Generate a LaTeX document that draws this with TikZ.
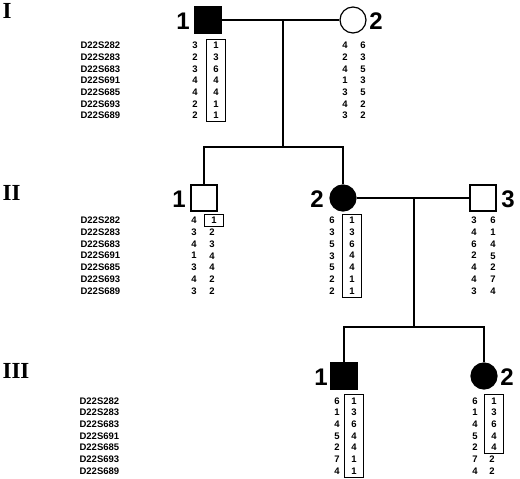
\documentclass[tikz,border=0pt]{standalone}
\usepackage{fontspec}
\setmainfont{Liberation Sans}
\newfontfamily\romfont{Liberation Serif}
\begin{document}
\begin{tikzpicture}[x=1pt, y=-1pt, line width=1.2pt,
  male/.style={draw, rectangle, minimum size=26pt, inner sep=0pt},
  female/.style={draw, circle, minimum size=26pt, inner sep=0pt},
  affected/.style={fill=black},
  idnum/.style={font=\bfseries\fontsize{24}{24}\selectfont, inner sep=0pt},
  genlab/.style={font=\romfont\bfseries\fontsize{23}{23}\selectfont, anchor=west, inner sep=0pt},
  markers/.style={font=\bfseries\fontsize{9.5}{11.7}\selectfont, align=left, anchor=west, inner sep=0pt},
  alleles/.style={font=\bfseries\fontsize{9.5}{11.7}\selectfont, align=center, inner sep=0pt},
  hapbox/.style={alleles, draw, line width=0.8pt, minimum width=19pt, inner ysep=3pt}]
  \useasboundingbox (0,0) rectangle (520,479);
  % generations
  \node[genlab] (genI) at (2,11) {I};
  \node[genlab] (genII) at (2,192.5) {II};
  \node[genlab] (genIII) at (2,370.5) {III};
  % individuals
  \node[male, affected] (I1) at (208,20) {};
  \node[female] (I2) at (353,20) {};
  \node[male] (II1) at (204,198) {};
  \node[female, affected] (II2) at (343,198) {};
  \node[male] (II3) at (483,198) {};
  \node[male, affected] (III1) at (344,376) {};
  \node[female, affected] (III2) at (484,376) {};
  \node[idnum] (nI1) at (183,21) {1};
  \node[idnum] (nI2) at (376,21) {2};
  \node[idnum] (nII1) at (179,199) {1};
  \node[idnum] (nII2) at (317,199) {2};
  \node[idnum] (nII3) at (508,199) {3};
  \node[idnum] (nIII1) at (321,377) {1};
  \node[idnum] (nIII2) at (507,377) {2};
  % lines of descent
  \coordinate (m1) at (283,20);
  \coordinate (s1) at (283,147);
  \coordinate (m2) at (414,198);
  \coordinate (s2) at (414,327);
  \draw (I1.east) -- (I2.west);
  \draw (m1) -- (s1);
  \draw (II1.north) |- (s1) -| (II2.north);
  \draw (II2.east) -- (II3.west);
  \draw (m2) -- (s2);
  \draw (III1.north) |- (s2) -| (III2.north);
  % markers
  \node[markers] (mkI) at (80,80.5) {D22S282\\D22S283\\D22S683\\D22S691\\D22S685\\D22S693\\D22S689};
  \node[markers] (mkII) at (80,255.7) {D22S282\\D22S283\\D22S683\\D22S691\\D22S685\\D22S693\\D22S689};
  \node[markers] (mkIII) at (79,435.9) {D22S282\\D22S283\\D22S683\\D22S691\\D22S685\\D22S693\\D22S689};
  % haplotypes, generation I
  \node[alleles] (hI1a) at (195,80.5) {3\\2\\3\\4\\4\\2\\2};
  \node[hapbox] (hI1b) at (216,80.5) {1\\3\\6\\4\\4\\1\\1};
  \node[alleles] (hI2a) at (345,80.5) {4\\2\\4\\1\\3\\4\\3};
  \node[alleles] (hI2b) at (363,80.5) {6\\3\\5\\3\\5\\2\\2};
  % haplotypes, generation II
  \node[alleles] (hII1a) at (194,255.7) {4\\3\\4\\1\\3\\4\\3};
  \node[hapbox] (hII1b) at (214,220.6) {1};
  \node[alleles] (hII1c) at (212,261.6) {2\\3\\4\\4\\2\\2};
  \node[alleles] (hII2a) at (332,255.7) {6\\3\\5\\3\\5\\2\\2};
  \node[hapbox] (hII2b) at (352,255.7) {1\\3\\6\\4\\4\\1\\1};
  \node[alleles] (hII3a) at (474,255.7) {3\\4\\6\\2\\4\\4\\3};
  \node[alleles] (hII3b) at (493,255.7) {6\\1\\4\\5\\2\\7\\4};
  % haplotypes, generation III
  \node[alleles] (hIII1a) at (337,435.9) {6\\1\\4\\5\\2\\7\\4};
  \node[hapbox] (hIII1b) at (354,435.9) {1\\3\\6\\4\\4\\1\\1};
  \node[alleles] (hIII2a) at (475,435.9) {6\\1\\4\\5\\2\\7\\4};
  \node[hapbox] (hIII2b) at (494,424.2) {1\\3\\6\\4\\4};
  \node[alleles] (hIII2c) at (492,465.2) {2\\2};
\end{tikzpicture}
\end{document}
